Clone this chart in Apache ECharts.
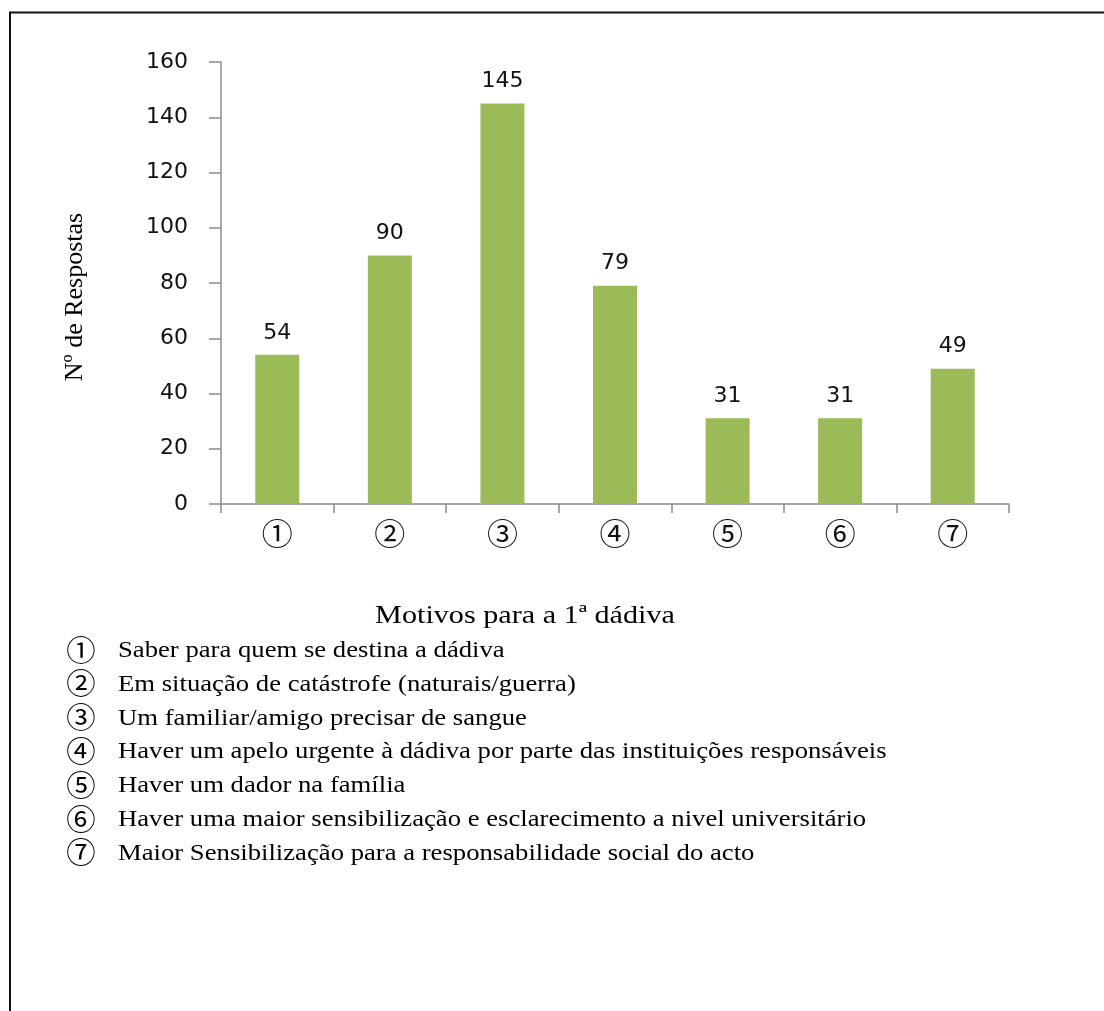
<!DOCTYPE html>
<html>
<head>
<meta charset="utf-8">
<title>Motivos para a 1ª dádiva</title>
<script src="https://cdn.jsdelivr.net/npm/echarts@6/dist/echarts.min.js"></script>
<style>
  html, body { margin: 0; padding: 0; background: #ffffff; }
  #chart { width: 1104px; height: 1011px; }
</style>
</head>
<body>
<div id="chart"></div>
<script>
// Motive codes shown under each bar
const categories = ['①', '②', '③', '④', '⑤', '⑥', '⑦'];
// Number of answers for each motive
const responses = [54, 90, 145, 79, 31, 31, 49];
// Y axis tick range
const yTicks = [0, 20, 40, 60, 80, 100, 120, 140, 160];
// Key explaining each code
const motiveTexts = [
  'Saber para quem se destina a dádiva',
  'Em situação de catástrofe (naturais/guerra)',
  'Um familiar/amigo precisar de sangue',
  'Haver um apelo urgente à dádiva por parte das instituições responsáveis',
  'Haver um dador na família',
  'Haver uma maior sensibilização e esclarecimento a nivel universitário',
  'Maior Sensibilização para a responsabilidade social do acto'
];

const axisColor = '#8c8c8c';
const sansFont = '"DejaVu Sans", Verdana, sans-serif';
const serifFont = '"Liberation Serif", "Times New Roman", serif';
const circFont = '"Noto Sans CJK JP", "DejaVu Sans", sans-serif';
const wide = 1.16; // horizontal stretch of the serif captions

const chart = echarts.init(document.getElementById('chart'), null, { renderer: 'canvas' });

// Key entries below the chart
const keyElements = [];
motiveTexts.forEach(function (txt, i) {
  const y = 650 + i * 33.8;
  keyElements.push({
    type: 'text', x: 81, y: y, scaleX: 1.05,
    style: { text: categories[i], font: '28px ' + circFont, fill: '#000', align: 'center', verticalAlign: 'middle' }
  });
  keyElements.push({
    type: 'text', x: 118, y: y + 1, scaleX: wide,
    style: { text: txt, font: '23px ' + serifFont, fill: '#000', align: 'left', verticalAlign: 'middle' }
  });
});

chart.setOption({
  animation: false,
  backgroundColor: '#ffffff',
  grid: { left: 221, right: 95, top: 62, bottom: 507, containLabel: false },
  xAxis: {
    type: 'category',
    data: categories,
    boundaryGap: true,
    axisLine: { show: true, lineStyle: { color: axisColor, width: 1.5 } },
    axisTick: { show: true, length: 9, lineStyle: { color: axisColor, width: 1.5 } },
    axisLabel: { color: '#111', fontFamily: circFont, fontSize: 31, margin: 14 }
  },
  yAxis: {
    type: 'value',
    min: yTicks[0],
    max: yTicks[yTicks.length - 1],
    interval: yTicks[1] - yTicks[0],
    axisLine: { show: true, lineStyle: { color: axisColor, width: 1.5 } },
    axisTick: { show: true, length: 12, inside: false, lineStyle: { color: axisColor, width: 1.5 } },
    splitLine: { show: false },
    axisLabel: { color: '#111', fontFamily: sansFont, fontSize: 22, margin: 33 }
  },
  series: [{
    type: 'bar',
    data: responses,
    barWidth: 44,
    itemStyle: { color: '#9bbb59' },
    label: {
      show: true, position: 'top', distance: 11,
      color: '#111', fontFamily: sansFont, fontSize: 22
    }
  }],
  graphic: [
    // Frame lines
    { type: 'line', shape: { x1: 9, y1: 12.5, x2: 1104, y2: 12.5 }, style: { stroke: '#111', lineWidth: 2 } },
    { type: 'line', shape: { x1: 10, y1: 12, x2: 10, y2: 1011 }, style: { stroke: '#111', lineWidth: 2 } },
    // Axis titles
    {
      type: 'text', x: 75, y: 297, rotation: Math.PI / 2,
      style: { text: 'Nº de Respostas', font: '26px ' + serifFont, fill: '#000', align: 'center', verticalAlign: 'middle' }
    },
    {
      type: 'text', x: 525, y: 616, scaleX: wide,
      style: { text: 'Motivos para a 1ª dádiva', font: '26px ' + serifFont, fill: '#000', align: 'center', verticalAlign: 'middle' }
    }
  ].concat(keyElements)
});
</script>
</body>
</html>
